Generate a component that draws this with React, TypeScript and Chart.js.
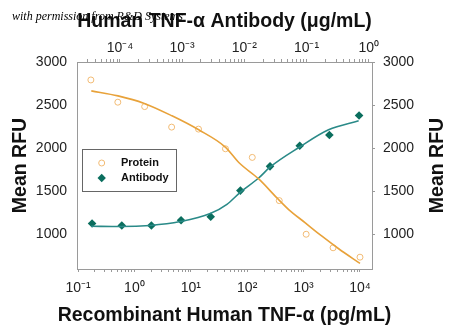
import React, { useEffect, useRef } from 'react';
import { Chart, registerables } from 'chart.js';
Chart.register(...registerables);

// Measured points (Protein on bottom axis, pg/mL; Antibody on top axis, µg/mL)
const proteinConc = [0.169, 0.508, 1.52, 4.57, 13.7, 41.2, 123, 370, 1111, 3333, 10000];
const proteinRFU = [2792, 2534, 2483, 2245, 2222, 1994, 1894, 1393, 1003, 846, 737];
const antibodyConc = [0.0000356, 0.000107, 0.00032, 0.00096, 0.00288, 0.00864, 0.0259, 0.0778, 0.233, 0.7];
const antibodyRFU = [1127, 1104, 1104, 1165, 1205, 1509, 1790, 2029, 2153, 2379];

// Fitted curves
const proteinFitConc = [0.172, 0.512, 1.46, 4.64, 13.8, 40.9, 72.5, 160, 337, 544, 1072, 2118, 4188, 10000];
const proteinFitRFU = [2665, 2607, 2523, 2376, 2214, 2014, 1829, 1644, 1424, 1289, 1135, 980, 835, 665];
const antibodyFitConc = [0.0000344, 0.000101, 0.000307, 0.000931, 0.00283, 0.00525, 0.00859, 0.017, 0.0261, 0.0775, 0.226, 0.689];
const antibodyFitRFU = [1096, 1092, 1105, 1150, 1243, 1350, 1489, 1655, 1783, 2014, 2214, 2318];

const yTicks = [1000, 1500, 2000, 2500, 3000];
const bottomExponents = [-1, 0, 1, 2, 3, 4];
const topExponents = [-4, -3, -2, -1, 0];

const topTitle = 'Human TNF-\u03b1 Antibody (\u03bcg/mL)';
const bottomTitle = 'Recombinant Human TNF-\u03b1 (pg/mL)';
const yTitle = 'Mean RFU';
const legendLabels = ['Protein', 'Antibody'];
const watermark = 'with permission from R&D Systems';

const PROTEIN_LINE = '#E8A23A';
const PROTEIN_MARK = '#F2BB74';
const AB_LINE = '#2A8A88';
const AB_MARK = '#0B6E5E';
const AXIS = '#9a9a9a';
const FONT = '"Liberation Sans", Arial, sans-serif';

const SUP: Record<string, string> = {
  '-': '\u207b', '0': '\u2070', '1': '\u00b9', '2': '\u00b2', '3': '\u00b3',
  '4': '\u2074', '5': '\u2075', '6': '\u2076', '7': '\u2077', '8': '\u2078', '9': '\u2079',
};
const sup = (n: number) => String(n).split('').map((c) => SUP[c] || c).join('');

function logTicks(min: number, max: number, exps: number[]) {
  const out: { value: number }[] = [];
  const lo = Math.min(...exps) - 1;
  const hi = Math.max(...exps) + 1;
  for (let e = lo; e <= hi; e++) {
    for (let k = 1; k <= 9; k++) {
      const v = k * Math.pow(10, e);
      if (v >= min && v <= max) out.push({ value: v });
    }
  }
  return out;
}

function powLabel(value: number, exps: number[]) {
  const l = Math.log10(value);
  const r = Math.round(l);
  if (Math.abs(l - r) < 1e-6 && exps.includes(r)) return '10' + sup(r);
  return '';
}

const X_MIN = Math.pow(10, -1.018);
const X_MAX = Math.pow(10, 4.213);
const X2_MIN = Math.pow(10, -4.691);
const X2_MAX = Math.pow(10, 0.053);

const decor = {
  id: 'decor',
  afterDraw(chart: any) {
    const ctx = chart.ctx as CanvasRenderingContext2D;
    const a = chart.chartArea;
    const cx = (a.left + a.right) / 2;
    const cy = (a.top + a.bottom) / 2;
    ctx.save();
    ctx.fillStyle = '#111';
    ctx.font = `bold 19.5px ${FONT}`;
    ctx.textAlign = 'center';
    ctx.textBaseline = 'alphabetic';
    ctx.fillText(topTitle, cx, 26.5);
    ctx.fillText(bottomTitle, cx, 321);
    ctx.save();
    ctx.translate(25.5, cy);
    ctx.rotate(-Math.PI / 2);
    ctx.fillText(yTitle, 0, 0);
    ctx.restore();
    ctx.save();
    ctx.translate(443, cy);
    ctx.rotate(-Math.PI / 2);
    ctx.fillText(yTitle, 0, 0);
    ctx.restore();

    // legend
    const lx = a.left + 5;
    const ly = a.top + 87;
    ctx.strokeStyle = '#666';
    ctx.lineWidth = 1;
    ctx.strokeRect(Math.round(lx) + 0.5, Math.round(ly) + 0.5, 94, 42);
    ctx.font = `bold 11px ${FONT}`;
    ctx.textAlign = 'left';
    ctx.textBaseline = 'middle';
    ctx.fillStyle = '#111';
    ctx.fillText(legendLabels[0], lx + 39, ly + 14);
    ctx.fillText(legendLabels[1], lx + 39, ly + 29);
    ctx.beginPath();
    ctx.arc(lx + 19.7, ly + 14, 3, 0, Math.PI * 2);
    ctx.strokeStyle = PROTEIN_MARK;
    ctx.stroke();
    const mx = lx + 19.7, my = ly + 29, r = 4.2;
    ctx.beginPath();
    ctx.moveTo(mx, my - r);
    ctx.lineTo(mx + r, my);
    ctx.lineTo(mx, my + r);
    ctx.lineTo(mx - r, my);
    ctx.closePath();
    ctx.fillStyle = AB_MARK;
    ctx.fill();

    // watermark
    ctx.font = 'italic 12px "Liberation Serif", "Times New Roman", serif';
    ctx.fillStyle = '#000';
    ctx.textAlign = 'left';
    ctx.textBaseline = 'alphabetic';
    ctx.fillText(watermark, 12, 19.5);
    ctx.restore();
  },
};

export default function App() {
  const ref = useRef<HTMLCanvasElement | null>(null);
  useEffect(() => {
    document.body.style.margin = '0';
    const canvas = ref.current!;
    const tickFont = { family: FONT, size: 14 };
    const chart = new Chart(canvas, {
      type: 'scatter',
      data: {
        datasets: [
          {
            label: 'Protein fit',
            data: proteinFitConc.map((x, i) => ({ x, y: proteinFitRFU[i] })),
            showLine: true,
            borderColor: PROTEIN_LINE,
            borderWidth: 1.6,
            pointRadius: 0,
            cubicInterpolationMode: 'monotone',
            xAxisID: 'x',
            yAxisID: 'y',
          },
          {
            label: 'Antibody fit',
            data: antibodyFitConc.map((x, i) => ({ x, y: antibodyFitRFU[i] })),
            showLine: true,
            borderColor: AB_LINE,
            borderWidth: 1.6,
            pointRadius: 0,
            cubicInterpolationMode: 'monotone',
            xAxisID: 'x2',
            yAxisID: 'y',
          },
          {
            label: 'Protein',
            data: proteinConc.map((x, i) => ({ x, y: proteinRFU[i] })),
            pointStyle: 'circle',
            pointRadius: 3,
            pointBorderWidth: 1,
            borderColor: PROTEIN_MARK,
            backgroundColor: 'rgba(0,0,0,0)',
            xAxisID: 'x',
            yAxisID: 'y',
          },
          {
            label: 'Antibody',
            data: antibodyConc.map((x, i) => ({ x, y: antibodyRFU[i] })),
            pointStyle: 'rectRot',
            pointRadius: 4.3,
            pointBorderWidth: 0,
            borderColor: AB_MARK,
            backgroundColor: AB_MARK,
            xAxisID: 'x2',
            yAxisID: 'y',
          },
        ],
      },
      options: {
        responsive: false,
        animation: false,
        devicePixelRatio: 1,
        layout: { padding: 0 },
        plugins: { legend: { display: false }, tooltip: { enabled: false } },
        scales: {
          x: {
            type: 'logarithmic',
            position: 'bottom',
            min: X_MIN,
            max: X_MAX,
            afterBuildTicks: (s: any) => { s.ticks = logTicks(X_MIN, X_MAX, bottomExponents); },
            afterFit: (s: any) => { s.height = 63; },
            ticks: {
              autoSkip: false,
              maxRotation: 0,
              padding: 8,
              color: '#222',
              font: tickFont,
              callback: (v: any) => powLabel(Number(v), bottomExponents),
            },
            grid: { drawOnChartArea: false, drawTicks: true, tickLength: 3, color: AXIS },
            border: { display: true, color: AXIS, width: 1 },
          },
          x2: {
            type: 'logarithmic',
            position: 'top',
            min: X2_MIN,
            max: X2_MAX,
            afterBuildTicks: (s: any) => { s.ticks = logTicks(X2_MIN, X2_MAX, topExponents); },
            afterFit: (s: any) => { s.height = 62; },
            ticks: {
              autoSkip: false,
              maxRotation: 0,
              padding: 2,
              color: '#222',
              font: tickFont,
              callback: (v: any) => powLabel(Number(v), topExponents),
            },
            grid: { drawOnChartArea: false, drawTicks: true, tickLength: 3, color: AXIS },
            border: { display: true, color: AXIS, width: 1 },
          },
          y: {
            position: 'left',
            min: 600,
            max: 3000,
            afterBuildTicks: (s: any) => { s.ticks = yTicks.map((v) => ({ value: v })); },
            afterFit: (s: any) => { s.width = 77; },
            ticks: { padding: 10, color: '#222', font: tickFont, callback: (v: any) => String(v) },
            grid: { drawOnChartArea: false, drawTicks: false, color: AXIS },
            border: { display: true, color: AXIS, width: 1 },
          },
          y2: {
            position: 'right',
            min: 600,
            max: 3000,
            afterBuildTicks: (s: any) => { s.ticks = yTicks.map((v) => ({ value: v })); },
            afterFit: (s: any) => { s.width = 78; },
            ticks: { padding: 8, color: '#222', font: tickFont, callback: (v: any) => String(v) },
            grid: { drawOnChartArea: false, drawTicks: true, tickLength: 3, color: AXIS },
            border: { display: true, color: AXIS, width: 1 },
          },
        },
      },
      plugins: [decor],
    } as any);
    return () => chart.destroy();
  }, []);
  return (
    <div style={{ position: 'absolute', left: 0, top: 0, width: 450, height: 332, background: '#fff' }}>
      <canvas ref={ref} width={450} height={332} style={{ display: 'block', width: 450, height: 332 }} />
    </div>
  );
}
